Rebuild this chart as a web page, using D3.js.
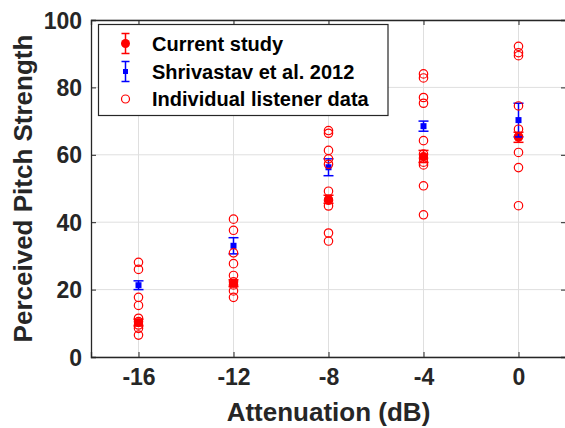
<!DOCTYPE html>
<html><head><meta charset="utf-8">
<script src="https://cdn.jsdelivr.net/npm/d3@7"></script>
<style>
html,body{margin:0;padding:0;background:#fff;}
svg{display:block;font-family:"Liberation Sans",Arial,sans-serif;font-weight:bold;}
</style></head>
<body><svg id="c" width="565" height="428"></svg>
<script>
const attenuation = [-16, -12, -8, -4, 0];
const xTicks = [-16, -12, -8, -4, 0];
const yTicks = [0, 20, 40, 60, 80, 100];
const currentMean = [10.2, 21.9, 46.8, 59.5, 65.2];
const currentErr = [1.0, 1.0, 1.2, 1.8, 1.5];
const shrivastavMean = [21.3, 33.0, 56.3, 68.5, 70.3];
const shrivastavErr = [1.3, 2.4, 2.5, 1.5, 5.0];
const individual16 = [28.1, 26.0, 17.7, 15.3, 11.5, 10.5, 9.5, 8.5, 6.5];
const individual12 = [40.9, 37.6, 30.9, 27.7, 24.2, 22.3, 21.4, 19.6, 17.7];
const individual8 = [67.2, 66.4, 61.3, 58.8, 57.2, 49.2, 46.5, 44.8, 36.8, 34.4];
const individual4 = [84.0, 82.8, 77.0, 75.3, 64.2, 60.2, 59.0, 57.8, 57.0, 50.8, 42.2];
const individual0 = [92.2, 90.3, 89.4, 74.5, 67.6, 65.4, 60.7, 56.2, 44.9];
const individualAll = [individual16, individual12, individual8, individual4, individual0];
const legendLabels = ["Current study", "Shrivastav et al. 2012", "Individual listener data"];

const svg = d3.select("#c");
const L = 91, R = 566, T = 20, B = 357;
const x = d3.scaleLinear().domain([-18, 2]).range([L, R]);
const y = d3.scaleLinear().domain([0, 100]).range([B, T]);
const RED = "#ff0000", BLUE = "#0000ff", AX = "#262626";

// grid
const g = svg.append("g");
g.selectAll(".gx").data(xTicks).enter().append("line")
  .attr("x1", d => x(d)).attr("x2", d => x(d)).attr("y1", T).attr("y2", B)
  .attr("stroke", "#dfdfdf").attr("stroke-width", 1);
g.selectAll(".gy").data(yTicks).enter().append("line")
  .attr("x1", L).attr("x2", R).attr("y1", d => y(d)).attr("y2", d => y(d))
  .attr("stroke", "#dfdfdf").attr("stroke-width", 1);

// axes
const ax = svg.append("g").attr("transform", `translate(0,${B})`)
  .call(d3.axisBottom(x).tickValues(xTicks).tickSize(-5).tickPadding(12).tickFormat(d => String(d)));
const ay = svg.append("g").attr("transform", `translate(${L},0)`)
  .call(d3.axisLeft(y).tickValues(yTicks).tickSize(-5).tickPadding(9).tickFormat(d => String(d)));
const at = svg.append("g").attr("transform", `translate(0,${T})`)
  .call(d3.axisTop(x).tickValues(xTicks).tickSize(-5).tickFormat(""));
const ar = svg.append("g").attr("transform", `translate(${R},0)`)
  .call(d3.axisRight(y).tickValues(yTicks).tickSize(-5).tickFormat(""));
[ax, ay, at, ar].forEach(a => {
  a.select(".domain").attr("stroke", AX).attr("stroke-width", 1.3);
  a.selectAll(".tick line").attr("stroke", AX).attr("stroke-width", 1);
  a.selectAll("text").attr("fill", "#262626").style("font-family", '"Liberation Sans",Arial,sans-serif')
    .style("font-weight", "bold").style("font-size", "23px");
});
ax.selectAll("text").attr("dy", "0.71em");
ay.selectAll("text").attr("dy", "0.35em");

// axis labels
svg.append("text").attr("x", (L + R) / 2).attr("y", 421).attr("text-anchor", "middle")
  .attr("fill", "#262626").style("font-size", "26px").text("Attenuation (dB)");
svg.append("text").attr("transform", `translate(32,${(T + B) / 2}) rotate(-90)`)
  .attr("text-anchor", "middle").attr("fill", "#262626").style("font-size", "26px")
  .text("Perceived Pitch Strength");

// error bar helper
function errbar(sel, xv, m, e, color, cap) {
  sel.append("line").attr("x1", xv).attr("x2", xv).attr("y1", y(m - e)).attr("y2", y(m + e))
    .attr("stroke", color).attr("stroke-width", 1.5);
  [m - e, m + e].forEach(v => sel.append("line").attr("x1", xv - cap).attr("x2", xv + cap)
    .attr("y1", y(v)).attr("y2", y(v)).attr("stroke", color).attr("stroke-width", 1.5));
}

const pts = svg.append("g");
// current study
attenuation.forEach((a, i) => {
  errbar(pts, x(a), currentMean[i], currentErr[i], RED, 5);
});
pts.selectAll(".cm").data(attenuation).enter().append("circle")
  .attr("cx", d => x(d)).attr("cy", (d, i) => y(currentMean[i])).attr("r", 4.5).attr("fill", RED);
// shrivastav
attenuation.forEach((a, i) => {
  errbar(pts, x(a), shrivastavMean[i], shrivastavErr[i], BLUE, 5);
});
pts.selectAll(".sm").data(attenuation).enter().append("rect")
  .attr("x", d => x(d) - 3).attr("y", (d, i) => y(shrivastavMean[i]) - 3)
  .attr("width", 6).attr("height", 6).attr("fill", BLUE);
// individual
const flat = [];
attenuation.forEach((a, i) => individualAll[i].forEach(v => flat.push({a, v})));
pts.selectAll(".ind").data(flat).enter().append("circle")
  .attr("cx", d => x(d.a)).attr("cy", d => y(d.v)).attr("r", 4.2)
  .attr("fill", "none").attr("stroke", RED).attr("stroke-width", 1.2);

// legend
const lg = svg.append("g");
lg.append("rect").attr("x", 98.5).attr("y", 24.5).attr("width", 289.5).attr("height", 91)
  .attr("fill", "#fff").attr("stroke", AX).attr("stroke-width", 1.2);
const ly = [43.5, 71.5, 99];
const lx = 125.5;
// red
lg.append("line").attr("x1", lx).attr("x2", lx).attr("y1", ly[0] - 10).attr("y2", ly[0] + 10).attr("stroke", RED).attr("stroke-width", 1.5);
[ly[0] - 10, ly[0] + 10].forEach(v => lg.append("line").attr("x1", lx - 4).attr("x2", lx + 4).attr("y1", v).attr("y2", v).attr("stroke", RED).attr("stroke-width", 1.5));
lg.append("circle").attr("cx", lx).attr("cy", ly[0]).attr("r", 4.5).attr("fill", RED);
// blue
lg.append("line").attr("x1", lx).attr("x2", lx).attr("y1", ly[1] - 10).attr("y2", ly[1] + 10).attr("stroke", BLUE).attr("stroke-width", 1.5);
[ly[1] - 10, ly[1] + 10].forEach(v => lg.append("line").attr("x1", lx - 4).attr("x2", lx + 4).attr("y1", v).attr("y2", v).attr("stroke", BLUE).attr("stroke-width", 1.5));
lg.append("rect").attr("x", lx - 2.5).attr("y", ly[1] - 2.5).attr("width", 5).attr("height", 5).attr("fill", BLUE);
// circle
lg.append("circle").attr("cx", lx).attr("cy", ly[2]).attr("r", 4).attr("fill", "none").attr("stroke", RED).attr("stroke-width", 1.2);
lg.selectAll(".lt").data(legendLabels).enter().append("text")
  .attr("x", 152).attr("y", (d, i) => ly[i]).attr("dy", "0.35em")
  .attr("fill", "#000").style("font-size", "20px").text(d => d);
</script></body></html>
